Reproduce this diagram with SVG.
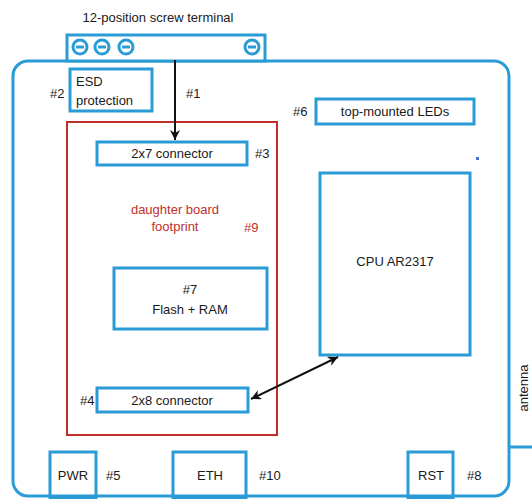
<svg xmlns="http://www.w3.org/2000/svg" width="532" height="499" viewBox="0 0 532 499">
<defs>
<style>
.b{fill:#fff;stroke:#2a9bd5;stroke-width:3}
.bl{fill:none;stroke:#2a9bd5;stroke-width:3}
.r{fill:none;stroke:#c0302a;stroke-width:2}
text{font-family:"Liberation Sans",Arial,sans-serif;font-size:13px;fill:#1a1a1a}
.c{text-anchor:middle}
.red{fill:#c0302a}
.ar{stroke:#111;stroke-width:2;fill:none}
</style>
<marker id="ah" markerUnits="userSpaceOnUse" markerWidth="12" markerHeight="10" refX="10" refY="5" orient="auto-start-reverse">
<path d="M0,0 L10,5 L0,10 L3,5 Z" fill="#111"/>
</marker>
</defs>
<rect width="532" height="499" fill="#fff"/>
<text class="c" x="158" y="22">12-position screw terminal</text>
<g id="board"><rect class="bl" x="13" y="61" width="496" height="435" rx="15"/></g>
<g id="terminal">
<rect class="b" x="67" y="35" width="198" height="26"/>
<g class="bl" stroke-width="2.5">
<circle cx="80" cy="47" r="7"/><line x1="76" y1="47" x2="84" y2="47"/>
<circle cx="102" cy="47" r="7"/><line x1="98" y1="47" x2="106" y2="47"/>
<circle cx="126" cy="47" r="7"/><line x1="122" y1="47" x2="130" y2="47"/>
<circle cx="252" cy="47" r="7"/><line x1="248" y1="47" x2="256" y2="47"/>
</g>
</g>
<g id="esd">
<rect class="b" x="70" y="69" width="82" height="42"/>
<text x="76" y="86">ESD</text><text x="76" y="105">protection</text>
<text x="50" y="98">#2</text>
</g>
<g id="daughter">
<rect class="r" x="67" y="122" width="210" height="313"/>
<text class="c red" x="175" y="214">daughter board</text>
<text class="c red" x="175" y="231">footprint</text>
<text class="red" x="244" y="232">#9</text>
</g>
<g id="conn27">
<rect class="b" x="97" y="142" width="150" height="23"/>
<text class="c" x="172" y="158">2x7 connector</text>
<text x="255" y="158">#3</text>
</g>
<g id="flash">
<rect class="b" x="114" y="268" width="153" height="61"/>
<text class="c" x="190" y="294">#7</text>
<text class="c" x="190" y="314">Flash + RAM</text>
</g>
<g id="conn28">
<rect class="b" x="97" y="388" width="151" height="24"/>
<text class="c" x="172" y="405">2x8 connector</text>
<text x="80" y="405">#4</text>
</g>
<g id="leds">
<rect class="b" x="316" y="99" width="158" height="25"/>
<text class="c" x="395" y="116">top-mounted LEDs</text>
<text x="293" y="116">#6</text>
</g>
<rect x="476" y="157" width="3" height="3" fill="#4a6fd0"/>
<g id="cpu">
<rect class="b" x="320" y="173" width="150" height="182"/>
<text class="c" x="395" y="266">CPU AR2317</text>
</g>
<g id="pwr">
<rect class="bl" x="50" y="452" width="46" height="46"/>
<text class="c" x="73" y="480">PWR</text>
<text x="106" y="480">#5</text>
</g>
<g id="eth">
<rect class="bl" x="173" y="452" width="73" height="46"/>
<text class="c" x="210" y="480">ETH</text>
<text x="259" y="480">#10</text>
</g>
<g id="rst">
<rect class="bl" x="408" y="452" width="45" height="46"/>
<text class="c" x="431" y="480">RST</text>
<text x="467" y="480">#8</text>
</g>
<g id="antenna">
<line class="bl" x1="509" y1="447" x2="532" y2="447"/>
<text class="c" transform="translate(528,388) rotate(-90)">antenna</text>
</g>
<g id="connectors">
<line class="ar" x1="175" y1="60" x2="175" y2="140" marker-end="url(#ah)"/>
<text x="186" y="98">#1</text>
<line class="ar" x1="251" y1="399" x2="338" y2="357" marker-start="url(#ah)" marker-end="url(#ah)"/>
</g>
</svg>
